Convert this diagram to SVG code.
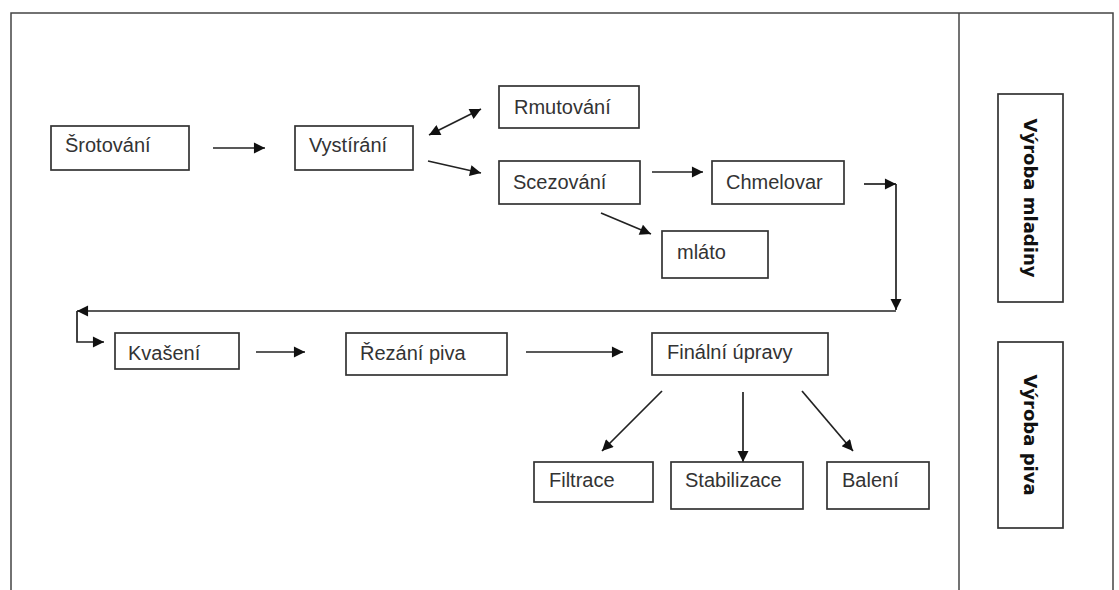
<svg xmlns="http://www.w3.org/2000/svg" width="1119" height="590" viewBox="0 0 1119 590">
<defs>
<style>
.box{fill:#fff;stroke:#333;stroke-width:1.7}
.t{font-family:"Liberation Sans",Arial,sans-serif;font-size:20px;fill:#333}
.v{font-family:"DejaVu Sans",Verdana,sans-serif;font-size:18px;font-weight:bold;fill:#111}
.c{fill:none;stroke:#222;stroke-width:1.7}
.frame{fill:none;stroke:#444;stroke-width:1.5}
</style>
<marker id="ah" viewBox="0 0 10 10" refX="10" refY="5" markerWidth="7.5" markerHeight="6.5" markerUnits="strokeWidth" orient="auto-start-reverse">
<path d="M0,0 L10,5 L0,10 z" fill="#111"/>
</marker>
</defs>
<rect width="1119" height="590" fill="#fff"/>
<g id="frame">
<path class="frame" d="M11,591 V13 H1113 V591"/>
<line class="frame" x1="959" y1="13" x2="959" y2="591"/>
</g>
<g id="connectors">
<line class="c" x1="213" y1="148" x2="265" y2="148" marker-end="url(#ah)"/>
<line class="c" x1="429" y1="135" x2="481" y2="109" marker-start="url(#ah)" marker-end="url(#ah)"/>
<line class="c" x1="428" y1="161" x2="481" y2="173" marker-end="url(#ah)"/>
<line class="c" x1="652" y1="172" x2="703" y2="172" marker-end="url(#ah)"/>
<line class="c" x1="601" y1="213" x2="651" y2="234" marker-end="url(#ah)"/>
<line class="c" x1="864" y1="184" x2="896" y2="184" marker-end="url(#ah)"/>
<line class="c" x1="896" y1="184" x2="896" y2="310" marker-end="url(#ah)"/>
<line class="c" x1="896" y1="311" x2="77" y2="311" marker-end="url(#ah)"/>
<polyline class="c" points="77,311 77,342 104,342" marker-end="url(#ah)"/>
<line class="c" x1="256" y1="352" x2="305" y2="352" marker-end="url(#ah)"/>
<line class="c" x1="526" y1="352" x2="623" y2="352" marker-end="url(#ah)"/>
<line class="c" x1="662" y1="391" x2="602" y2="451" marker-end="url(#ah)"/>
<line class="c" x1="743" y1="392" x2="743" y2="462" marker-end="url(#ah)"/>
<line class="c" x1="802" y1="391" x2="853" y2="451" marker-end="url(#ah)"/>
</g>
<g id="srotovani"><rect class="box" x="51" y="126" width="138" height="44"/><text class="t" x="65" y="152">Šrotování</text></g>
<g id="vystirani"><rect class="box" x="295" y="126" width="118" height="44"/><text class="t" x="309" y="152">Vystírání</text></g>
<g id="rmutovani"><rect class="box" x="499" y="86" width="140" height="42"/><text class="t" x="514" y="114">Rmutování</text></g>
<g id="scezovani"><rect class="box" x="499" y="161" width="141" height="43"/><text class="t" x="513" y="189">Scezování</text></g>
<g id="chmelovar"><rect class="box" x="712" y="161" width="132" height="43"/><text class="t" x="726" y="189">Chmelovar</text></g>
<g id="mlato"><rect class="box" x="662" y="231" width="106" height="47"/><text class="t" x="677" y="259">mláto</text></g>
<g id="kvaseni"><rect class="box" x="115" y="333" width="124" height="36"/><text class="t" x="128" y="360">Kvašení</text></g>
<g id="rezani"><rect class="box" x="346" y="333" width="161" height="42"/><text class="t" x="360" y="360">Řezání piva</text></g>
<g id="finalni"><rect class="box" x="652" y="333" width="176" height="42"/><text class="t" x="667" y="359">Finální úpravy</text></g>
<g id="filtrace"><rect class="box" x="534" y="462" width="119" height="40"/><text class="t" x="549" y="487">Filtrace</text></g>
<g id="stabilizace"><rect class="box" x="671" y="462" width="132" height="47"/><text class="t" x="685" y="487">Stabilizace</text></g>
<g id="baleni"><rect class="box" x="827" y="462" width="102" height="47"/><text class="t" x="842" y="487">Balení</text></g>
<g id="vyroba-mladiny"><rect class="box" x="998" y="94" width="65" height="208"/><text class="v" transform="translate(1024,198) rotate(90)" text-anchor="middle">Výroba mladiny</text></g>
<g id="vyroba-piva"><rect class="box" x="998" y="342" width="65" height="186"/><text class="v" transform="translate(1024,435) rotate(90)" text-anchor="middle">Výroba piva</text></g>
</svg>
